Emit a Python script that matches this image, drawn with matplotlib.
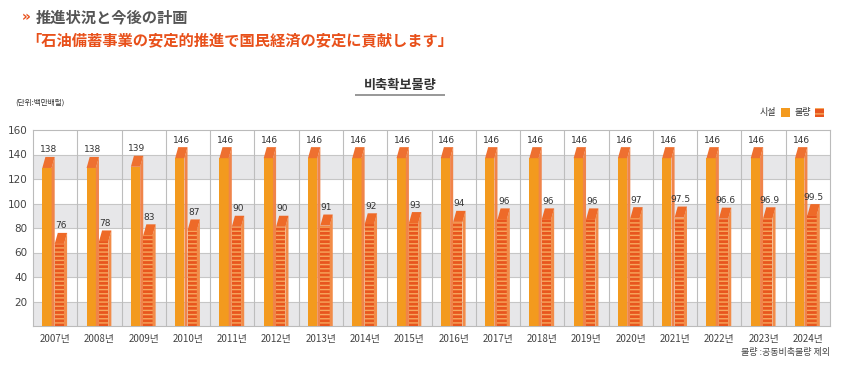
import matplotlib
matplotlib.use("Agg")
import matplotlib.pyplot as plt
from matplotlib.patches import Polygon, Rectangle
import numpy as np

plt.rcParams['font.family'] = ['Noto Sans CJK KR', 'DejaVu Sans']

years = [2007, 2008, 2009, 2010, 2011, 2012, 2013, 2014, 2015, 2016,
         2017, 2018, 2019, 2020, 2021, 2022, 2023, 2024]
year_labels = [f"{y}년" for y in years]
facility = [138, 138, 139, 146, 146, 146, 146, 146, 146, 146,
            146, 146, 146, 146, 146, 146, 146, 146]
volume = [76, 78, 83, 87, 90, 90, 91, 92, 93, 94,
          96, 96, 96, 97, 97.5, 96.6, 96.9, 99.5]
volume_labels = ["76", "78", "83", "87", "90", "90", "91", "92", "93", "94",
                 "96", "96", "96", "97", "97.5", "96.6", "96.9", "99.5"]
yticks = [20, 40, 60, 80, 100, 120, 140, 160]

FAC_FRONT = "#F39A1E"
FAC_SIDE = "#F0844A"
FAC_TOP = "#EE7030"
VOL_FRONT = "#E8561E"
VOL_STRIPE = "#F7A85E"
VOL_SIDE = "#F28C48"
VOL_TOP = "#EE6A28"

W, H = 850, 368
fig = plt.figure(figsize=(W / 100, H / 100), dpi=100)
fig.patch.set_facecolor("white")

ax = fig.add_axes([33 / W, 1 - 326 / H, (830 - 33) / W, (326 - 130) / H])
n = len(years)
ax.set_xlim(0, n)
ax.set_ylim(0, 160)

# bands
for lo in (0, 40, 80, 120):
    ax.axhspan(lo, lo + 20, color="#E7E7E9", zorder=0, lw=0)
for yv in yticks[:-1]:
    ax.axhline(yv, color="#C6C6C6", lw=0.8, zorder=1)
for i in range(1, n):
    ax.axvline(i, color="#BDBDBD", lw=0.8, zorder=1)

d = 9.0  # bevel depth (data units)

def draw_bar(xc0, xc1, ws, v, front, side, top, hatch=None, stripe=None):
    h = v - d
    if hatch:
        ax.bar(xc0, h, width=xc1 - xc0, align="edge", color=front,
               edgecolor=stripe, linewidth=0, hatch=hatch, zorder=3)
    else:
        ax.bar(xc0, h, width=xc1 - xc0, align="edge", color=front,
               linewidth=0, zorder=3)
    ax.add_patch(Polygon([(xc1, 0), (xc1 + ws, 0), (xc1 + ws, v), (xc1, h)],
                         closed=True, facecolor=side, lw=0, zorder=3))
    ax.add_patch(Polygon([(xc0, h), (xc0 + ws, v), (xc1 + ws, v), (xc1, h)],
                         closed=True, facecolor=top, lw=0, zorder=4))

plt.rcParams['hatch.linewidth'] = 1.0
for i in range(n):
    # facility bar
    f0, f1, fs = i + 0.21, i + 0.42, 0.07
    draw_bar(f0, f1, fs, facility[i], FAC_FRONT, FAC_SIDE, FAC_TOP)
    ax.text((f0 + f1 + fs) / 2, facility[i] + 2, str(facility[i]),
            ha="center", va="bottom", fontsize=6.5, color="#333333",
            family=["DejaVu Sans"], zorder=5)
    # volume bar
    v0, v1, vs = i + 0.49, i + 0.70, 0.07
    draw_bar(v0, v1, vs, volume[i], VOL_FRONT, VOL_SIDE, VOL_TOP,
             hatch="----", stripe=VOL_STRIPE)
    ax.text((v0 + v1 + vs) / 2, volume[i] + 2, volume_labels[i],
            ha="center", va="bottom", fontsize=6.5, color="#333333",
            family=["DejaVu Sans"], zorder=5)

ax.set_yticks(yticks)
ax.set_yticklabels([str(t) for t in yticks], fontsize=7.5, color="#444444",
                   family=["DejaVu Sans"])
ax.set_xticks(np.arange(n) + 0.5)
ax.set_xticklabels(year_labels, fontsize=7, color="#444444")
ax.tick_params(axis="both", length=0, pad=6)
ax.tick_params(axis="y", pad=4)
for s in ax.spines.values():
    s.set_color("#BBBBBB")
    s.set_linewidth(0.8)

# headings
fig.text(22 / W, 1 - 17 / H, "»", fontsize=10, color="#E8501A",
         fontweight="bold", va="center", ha="left", family=["DejaVu Sans"])
fig.text(36 / W, 1 - 17 / H, "推進状況と今後の計画", fontsize=11,
         color="#555555", fontweight="bold", va="center", ha="left",
         family=["Noto Sans CJK JP", "DejaVu Sans"])
fig.text(26 / W, 1 - 40 / H, "「石油備蓄事業の安定的推進で国民経済の安定に貢献します」",
         fontsize=11, color="#E8501A", fontweight="bold", va="center",
         ha="left", family=["Noto Sans CJK JP", "DejaVu Sans"])

fig.text(400 / W, 1 - 85 / H, "비축확보물량", fontsize=9.5, color="#333333",
         va="center", ha="center", fontweight="bold")
fig.add_artist(Rectangle((355 / W, 1 - 96 / H), 90 / W, 2 / H,
                         transform=fig.transFigure, facecolor="#9A9A9A", lw=0))

fig.text(15 / W, 1 - 103 / H, "(단위:백만배럴)", fontsize=5.5, color="#333333",
         va="center", ha="left")

# legend
fig.text(776 / W, 1 - 113 / H, "시설", fontsize=6.5, color="#333333",
         va="center", ha="right")
fig.add_artist(Rectangle((781 / W, 1 - 117 / H), 9 / W, 9 / H,
                         transform=fig.transFigure, facecolor=FAC_FRONT, lw=0))
fig.text(811 / W, 1 - 113 / H, "물량", fontsize=6.5, color="#333333",
         va="center", ha="right")
fig.add_artist(Rectangle((815 / W, 1 - 117 / H), 9 / W, 9 / H,
                         transform=fig.transFigure, facecolor=VOL_FRONT,
                         edgecolor=VOL_STRIPE, lw=0, hatch="---"))

fig.text(830 / W, 1 - 352 / H, "물량 :공동비축물량 제외", fontsize=6.5,
         color="#444444", va="center", ha="right")

fig.savefig("out.png", dpi=100, facecolor="white")
